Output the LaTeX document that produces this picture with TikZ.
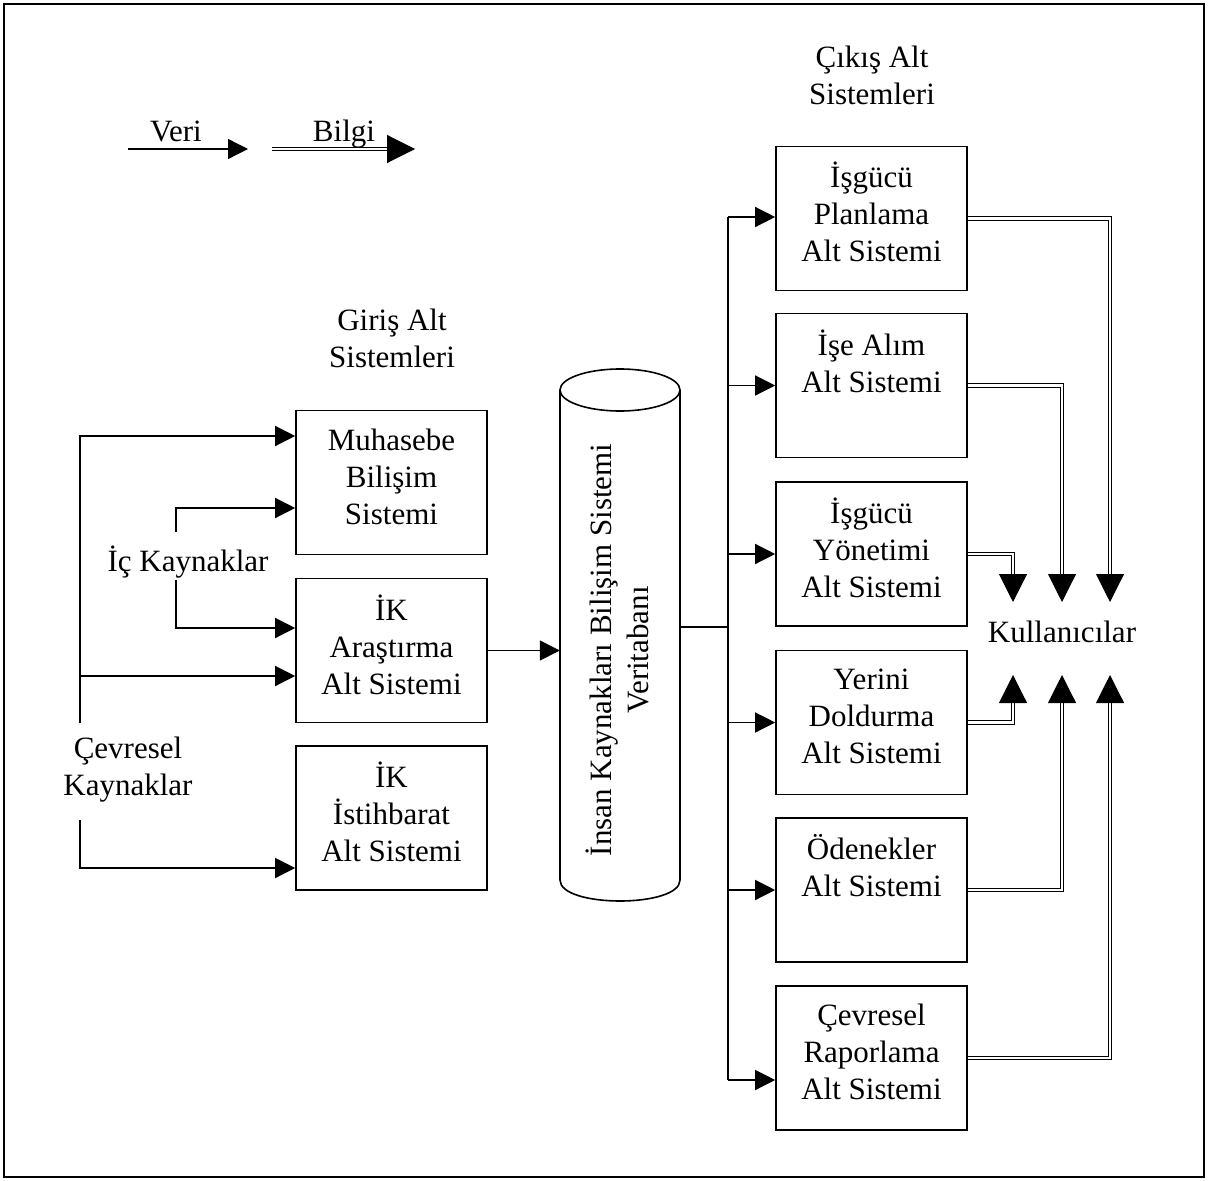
\documentclass[tikz,border=0pt]{standalone}
\usepackage{fontspec}
\setmainfont{Liberation Serif}
\usetikzlibrary{arrows.meta}
\begin{document}
\begin{tikzpicture}[x=1pt,y=-1pt,
  every node/.style={font=\fontsize{31}{37}\selectfont, inner sep=0pt},
  box/.style={draw, line width=1.6pt, minimum width=191pt, minimum height=144pt},
  txt/.style={align=center},
  wire/.style={line width=1.3pt},
  veri/.style={line width=1.3pt, -{Triangle[length=20pt,width=20pt]}},
  bilgi/.style={double, double distance=2.2pt, line width=1.1pt,
                -{Triangle[length=28pt,width=28pt]}},
]
\useasboundingbox (0,0) rectangle (1209,1180);
% outer frame
\draw[line width=1.8pt] (4,4) rectangle (1204,1177);

% legend
\coordinate (vA) at (128,149);
\coordinate (vB) at (248,149);
\coordinate (bA) at (272,149);
\coordinate (bB) at (415,149);
\draw[veri] (vA) -- (vB);
\draw[bilgi] (bA) -- (bB);
\node[anchor=base] (veriT) at (176,141) {Veri};
\node[anchor=base] (bilgiT) at (344,141) {Bilgi};

% headings
\node[txt] (outH) at (872,75) {Çıkış Alt\\Sistemleri};
\node[txt] (inH) at (392,338) {Giriş Alt\\Sistemleri};

% input subsystems
\node[box] (mu) at (391.5,482.5) {};
\node[box] (ar) at (391.5,650.5) {};
\node[box] (is) at (391.5,818) {};
\node[txt] (muT) at ([yshift=6pt]mu.center) {Muhasebe\\Bilişim\\Sistemi};
\node[txt] (arT) at ([yshift=6pt]ar.center) {İK\\Araştırma\\Alt Sistemi};
\node[txt] (isT) at ([yshift=6pt]is.center) {İK\\İstihbarat\\Alt Sistemi};

% sources
\node[txt] (ic) at (188,562) {İç Kaynaklar};
\node[txt] (cv) at (128,770) {Çevresel\\Kaynaklar};
\coordinate (cvA) at (80,723);
\coordinate (cvM) at (80,676);
\coordinate (cvB) at (80,820);
\coordinate (icA) at (176,532);
\coordinate (icB) at (176,580);
\draw[veri] (cvA) |- ([yshift=46.5pt]mu.west);
\draw[veri] (cvM) -- (cvM -| ar.west);
\draw[veri] (cvB) |- ([yshift=-50pt]is.west);
\draw[veri] (icA) |- ([yshift=-25.5pt]mu.west);
\draw[veri] (icB) |- ([yshift=22.5pt]ar.west);

% database cylinder
\draw[line width=1.6pt] (560,390) -- (560,880)
  .. controls (560,908) and (680,908) .. (680,880) -- (680,390);
\draw[line width=1.6pt] (620,390) ellipse [x radius=60, y radius=21];
\node[minimum width=120pt, minimum height=490pt] (db) at (620,635) {};
\node[txt, rotate=90] (dbT) at (617,650) {İnsan Kaynakları Bilişim Sistemi\\Veritabanı};
\draw[veri] (ar.east) -- (ar.east -| db.west);

% output subsystems
\node[box] (b1) at (871.5,218.5) {};
\node[box] (b2) at (871.5,385.5) {};
\node[box] (b3) at (871.5,554) {};
\node[box] (b4) at (871.5,722.5) {};
\node[box] (b5) at (871.5,890) {};
\node[box] (b6) at (871.5,1058) {};
\node[txt] (b1T) at ([yshift=6.5pt]b1.center) {İşgücü\\Planlama\\Alt Sistemi};
\node[txt] (b2T) at ([yshift=24.5pt]b2.center) {İşe Alım\\Alt Sistemi};
\node[txt] (b3T) at ([yshift=6.5pt]b3.center) {İşgücü\\Yönetimi\\Alt Sistemi};
\node[txt] (b4T) at ([yshift=6.5pt]b4.center) {Yerini\\Doldurma\\Alt Sistemi};
\node[txt] (b5T) at ([yshift=24.5pt]b5.center) {Ödenekler\\Alt Sistemi};
\node[txt] (b6T) at ([yshift=6.5pt]b6.center) {Çevresel\\Raporlama\\Alt Sistemi};

% distribution bus
\coordinate (busT) at (728,217);
\coordinate (busB) at (728,1080);
\draw[wire] (db.east |- 0,627) -- (busT |- 0,627);
\draw[wire] (busT) -- (busB);
\draw[veri] (busT) -- (busT -| b1.west);
\draw[veri] (b2.west -| busT) -- (b2.west);
\draw[veri] (b3.west -| busT) -- (b3.west);
\draw[veri] (b4.west -| busT) -- (b4.west);
\draw[veri] (b5.west -| busT) -- (b5.west);
\draw[veri] (busB) -- (busB -| b6.west);

% users
\node[txt] (ku) at (1062,632) {Kullanıcılar};
\coordinate (k1) at (1110,602);
\coordinate (k2) at (1062,602);
\coordinate (k3) at (1013,602);
\coordinate (k4) at (1013,675);
\coordinate (k5) at (1062,675);
\coordinate (k6) at (1110,675);
\draw[bilgi] (b1.east) -| (k1);
\draw[bilgi] (b2.east) -| (k2);
\draw[bilgi] (b3.east) -| (k3);
\draw[bilgi] (b4.east) -| (k4);
\draw[bilgi] (b5.east) -| (k5);
\draw[bilgi] (b6.east) -| (k6);
\end{tikzpicture}
\end{document}
